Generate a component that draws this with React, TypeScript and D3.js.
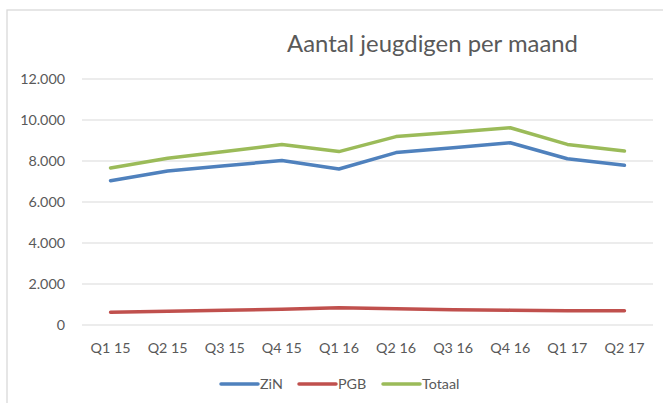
import React from "react";
import * as d3 from "d3";

const categories = ["Q1 15", "Q2 15", "Q3 15", "Q4 15", "Q1 16", "Q2 16", "Q3 16", "Q4 16", "Q1 17", "Q2 17"];
const zin = [7040, 7510, 7770, 8020, 7610, 8410, 8650, 8890, 8110, 7790];
const pgb = [620, 665, 715, 765, 845, 795, 745, 725, 695, 690];
const totaal = [7660, 8130, 8460, 8800, 8460, 9190, 9400, 9620, 8810, 8490];
const yTicks = [0, 2000, 4000, 6000, 8000, 10000, 12000];
const seriesNames = ["ZiN", "PGB", "Totaal"];
const colors = ["#4F81BD", "#C0504D", "#9BBB59"];

export default function App() {
  const W = 663, H = 403;
  const left = 82, right = 653, top = 79, bottom = 325;
  const x = d3.scaleBand<string>().domain(categories).range([left, right]);
  const y = d3.scaleLinear().domain([0, 12000]).range([bottom, top]);
  const fmt = (v: number) => (v === 0 ? "0" : d3.format(",")(v).replace(/,/g, "."));
  const line = d3
    .line<number>()
    .x((_, i) => (x(categories[i]) as number) + x.bandwidth() / 2)
    .y((d) => y(d));
  const series = [zin, pgb, totaal];
  const legendX = [221, 299, 383];
  const font = "Lato, 'Open Sans', sans-serif";
  return (
    <svg width={W} height={H} style={{ position: "absolute", left: 0, top: 0, background: "#fff" }}>
      <rect x={7} y={10} width={W} height={H} fill="#fff" stroke="#D9D9D9" strokeWidth={1.3} />
      <text x={287} y={52} textLength={291} lengthAdjust="spacingAndGlyphs" fontFamily={font} fontSize={23.5} fill="#595959">
        Aantal jeugdigen per maand
      </text>
      {yTicks.map((t) => (
        <g key={t}>
          <line x1={left} x2={right} y1={y(t)} y2={y(t)} stroke="#D9D9D9" strokeWidth={1} />
          <text x={65} y={y(t)} dy="0.35em" textAnchor="end" fontFamily={font} fontSize={14.3} fill="#595959">
            {fmt(t)}
          </text>
        </g>
      ))}
      {categories.map((c) => (
        <text key={c} x={(x(c) as number) + x.bandwidth() / 2} y={348} dy="0.35em" textAnchor="middle" fontFamily={font} fontSize={14.3} fill="#595959">
          {c}
        </text>
      ))}
      {series.map((s, i) => (
        <path key={i} d={line(s) || ""} fill="none" stroke={colors[i]} strokeWidth={3.5} strokeLinejoin="round" strokeLinecap="round" />
      ))}
      {seriesNames.map((n, i) => (
        <g key={n}>
          <line x1={legendX[i]} x2={legendX[i] + 37} y1={384} y2={384} stroke={colors[i]} strokeWidth={3.5} strokeLinecap="round" />
          <text x={legendX[i] + 39} y={384} dy="0.35em" fontFamily={font} fontSize={14.3} fill="#595959">
            {n}
          </text>
        </g>
      ))}
    </svg>
  );
}
